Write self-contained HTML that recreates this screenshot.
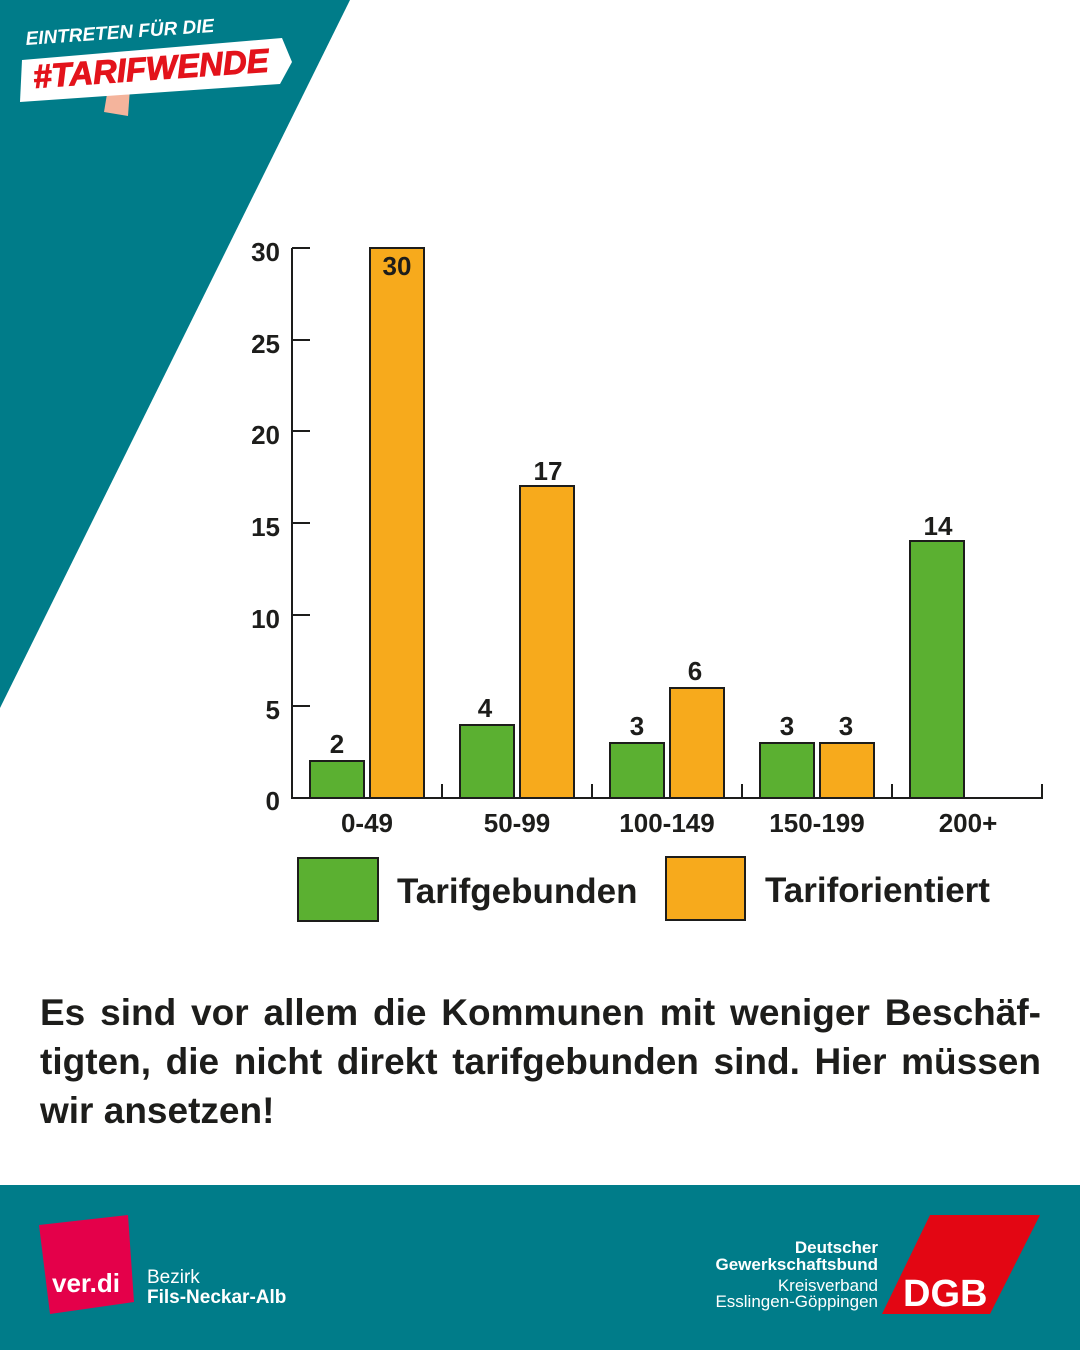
<!DOCTYPE html>
<html><head><meta charset="utf-8"><style>
html,body{margin:0;padding:0}
body{width:1080px;height:1350px;position:relative;background:#fff;overflow:hidden;font-family:"Liberation Sans",sans-serif}
.p{position:absolute;left:40px;width:1001px;top:988px;font-size:37px;font-weight:bold;line-height:49px;color:#1d1d1b}
.p span{display:block;text-align:justify;text-align-last:justify;white-space:nowrap}
.p span.l{text-align-last:left}
</style></head><body>
<svg width="1080" height="1350" style="position:absolute;left:0;top:0" font-family="Liberation Sans, sans-serif">
<polygon points="0,0 350,0 0,708" fill="#007c89"/>
<polygon points="108,88 130,88 128,116 104,112" fill="#f4b49c"/>
<polygon points="22,60 282,38 292,62 280,84 20,102" fill="#fff"/>
<text x="26" y="45" font-size="19" font-weight="bold" font-style="italic" fill="#fff" transform="rotate(-4 26 45)">EINTRETEN FÜR DIE</text>
<text x="34" y="88" font-size="33" font-weight="bold" font-style="italic" fill="#e3131b" stroke="#e3131b" stroke-width="1" transform="rotate(-4 34 88)">#TARIFWENDE</text>
<g stroke="#1d1d1b" stroke-width="2" fill="none">
<line x1="292" y1="248" x2="292" y2="798"/>
<line x1="291" y1="798" x2="1043" y2="798"/>
<line x1="292" y1="248" x2="310" y2="248"/>
<line x1="292" y1="340" x2="310" y2="340"/>
<line x1="292" y1="431" x2="310" y2="431"/>
<line x1="292" y1="523" x2="310" y2="523"/>
<line x1="292" y1="615" x2="310" y2="615"/>
<line x1="292" y1="706" x2="310" y2="706"/>
<line x1="442" y1="784" x2="442" y2="798"/>
<line x1="592" y1="784" x2="592" y2="798"/>
<line x1="742" y1="784" x2="742" y2="798"/>
<line x1="892" y1="784" x2="892" y2="798"/>
<line x1="1042" y1="784" x2="1042" y2="798"/>
</g>
<g font-size="26" font-weight="bold" fill="#1d1d1b" text-anchor="end">
<text x="280" y="261">30</text><text x="280" y="353">25</text><text x="280" y="444">20</text>
<text x="280" y="536">15</text><text x="280" y="628">10</text><text x="280" y="719">5</text><text x="280" y="810">0</text>
</g>
<g stroke="#1d1d1b" stroke-width="2">
<rect x="310" y="761" width="54" height="37" fill="#5bb031"/>
<rect x="370" y="248" width="54" height="550" fill="#f7aa1c"/>
<rect x="460" y="725" width="54" height="73" fill="#5bb031"/>
<rect x="520" y="486" width="54" height="312" fill="#f7aa1c"/>
<rect x="610" y="743" width="54" height="55" fill="#5bb031"/>
<rect x="670" y="688" width="54" height="110" fill="#f7aa1c"/>
<rect x="760" y="743" width="54" height="55" fill="#5bb031"/>
<rect x="820" y="743" width="54" height="55" fill="#f7aa1c"/>
<rect x="910" y="541" width="54" height="257" fill="#5bb031"/>
</g>
<g font-size="26" font-weight="bold" fill="#1d1d1b" text-anchor="middle">
<text x="337" y="753">2</text><text x="397" y="275">30</text>
<text x="485" y="717">4</text><text x="548" y="480">17</text>
<text x="637" y="735">3</text><text x="695" y="680">6</text>
<text x="787" y="735">3</text><text x="846" y="735">3</text>
<text x="938" y="535">14</text>
<text x="367" y="832">0-49</text><text x="517" y="832">50-99</text><text x="667" y="832">100-149</text>
<text x="817" y="832">150-199</text><text x="968" y="832">200+</text>
</g>
<rect x="298" y="858" width="80" height="63" fill="#5bb031" stroke="#1d1d1b" stroke-width="2"/>
<rect x="666" y="857" width="79" height="63" fill="#f7aa1c" stroke="#1d1d1b" stroke-width="2"/>
<g font-size="35" font-weight="bold" fill="#1d1d1b">
<text x="397" y="903">Tarifgebunden</text><text x="765" y="902">Tariforientiert</text>
</g>
<rect x="0" y="1185" width="1080" height="165" fill="#007c89"/>
<polygon points="39,1225 128,1215 134,1302 50,1314" fill="#e4004a"/>
<text x="52" y="1292" font-size="26" font-weight="bold" fill="#fff">ver.di</text>
<text x="147" y="1283" font-size="19" fill="#fff">Bezirk</text>
<text x="147" y="1303" font-size="19" font-weight="bold" fill="#fff">Fils-Neckar-Alb</text>
<polygon points="930,1215 1040,1215 990,1314 882,1314" fill="#e30613"/>
<text x="903" y="1306" font-size="38" font-weight="bold" fill="#fff">DGB</text>
<g font-size="17" fill="#fff" text-anchor="end">
<text x="878" y="1253" font-weight="bold">Deutscher</text>
<text x="878" y="1270" font-weight="bold">Gewerkschaftsbund</text>
<text x="878" y="1291">Kreisverband</text>
<text x="878" y="1307">Esslingen-Göppingen</text>
</g>
</svg>
<div class="p"><span>Es sind vor allem die Kommunen mit weniger Beschäf-</span><span>tigten, die nicht direkt tarifgebunden sind. Hier müssen</span><span class="l">wir ansetzen!</span></div>
</body></html>
